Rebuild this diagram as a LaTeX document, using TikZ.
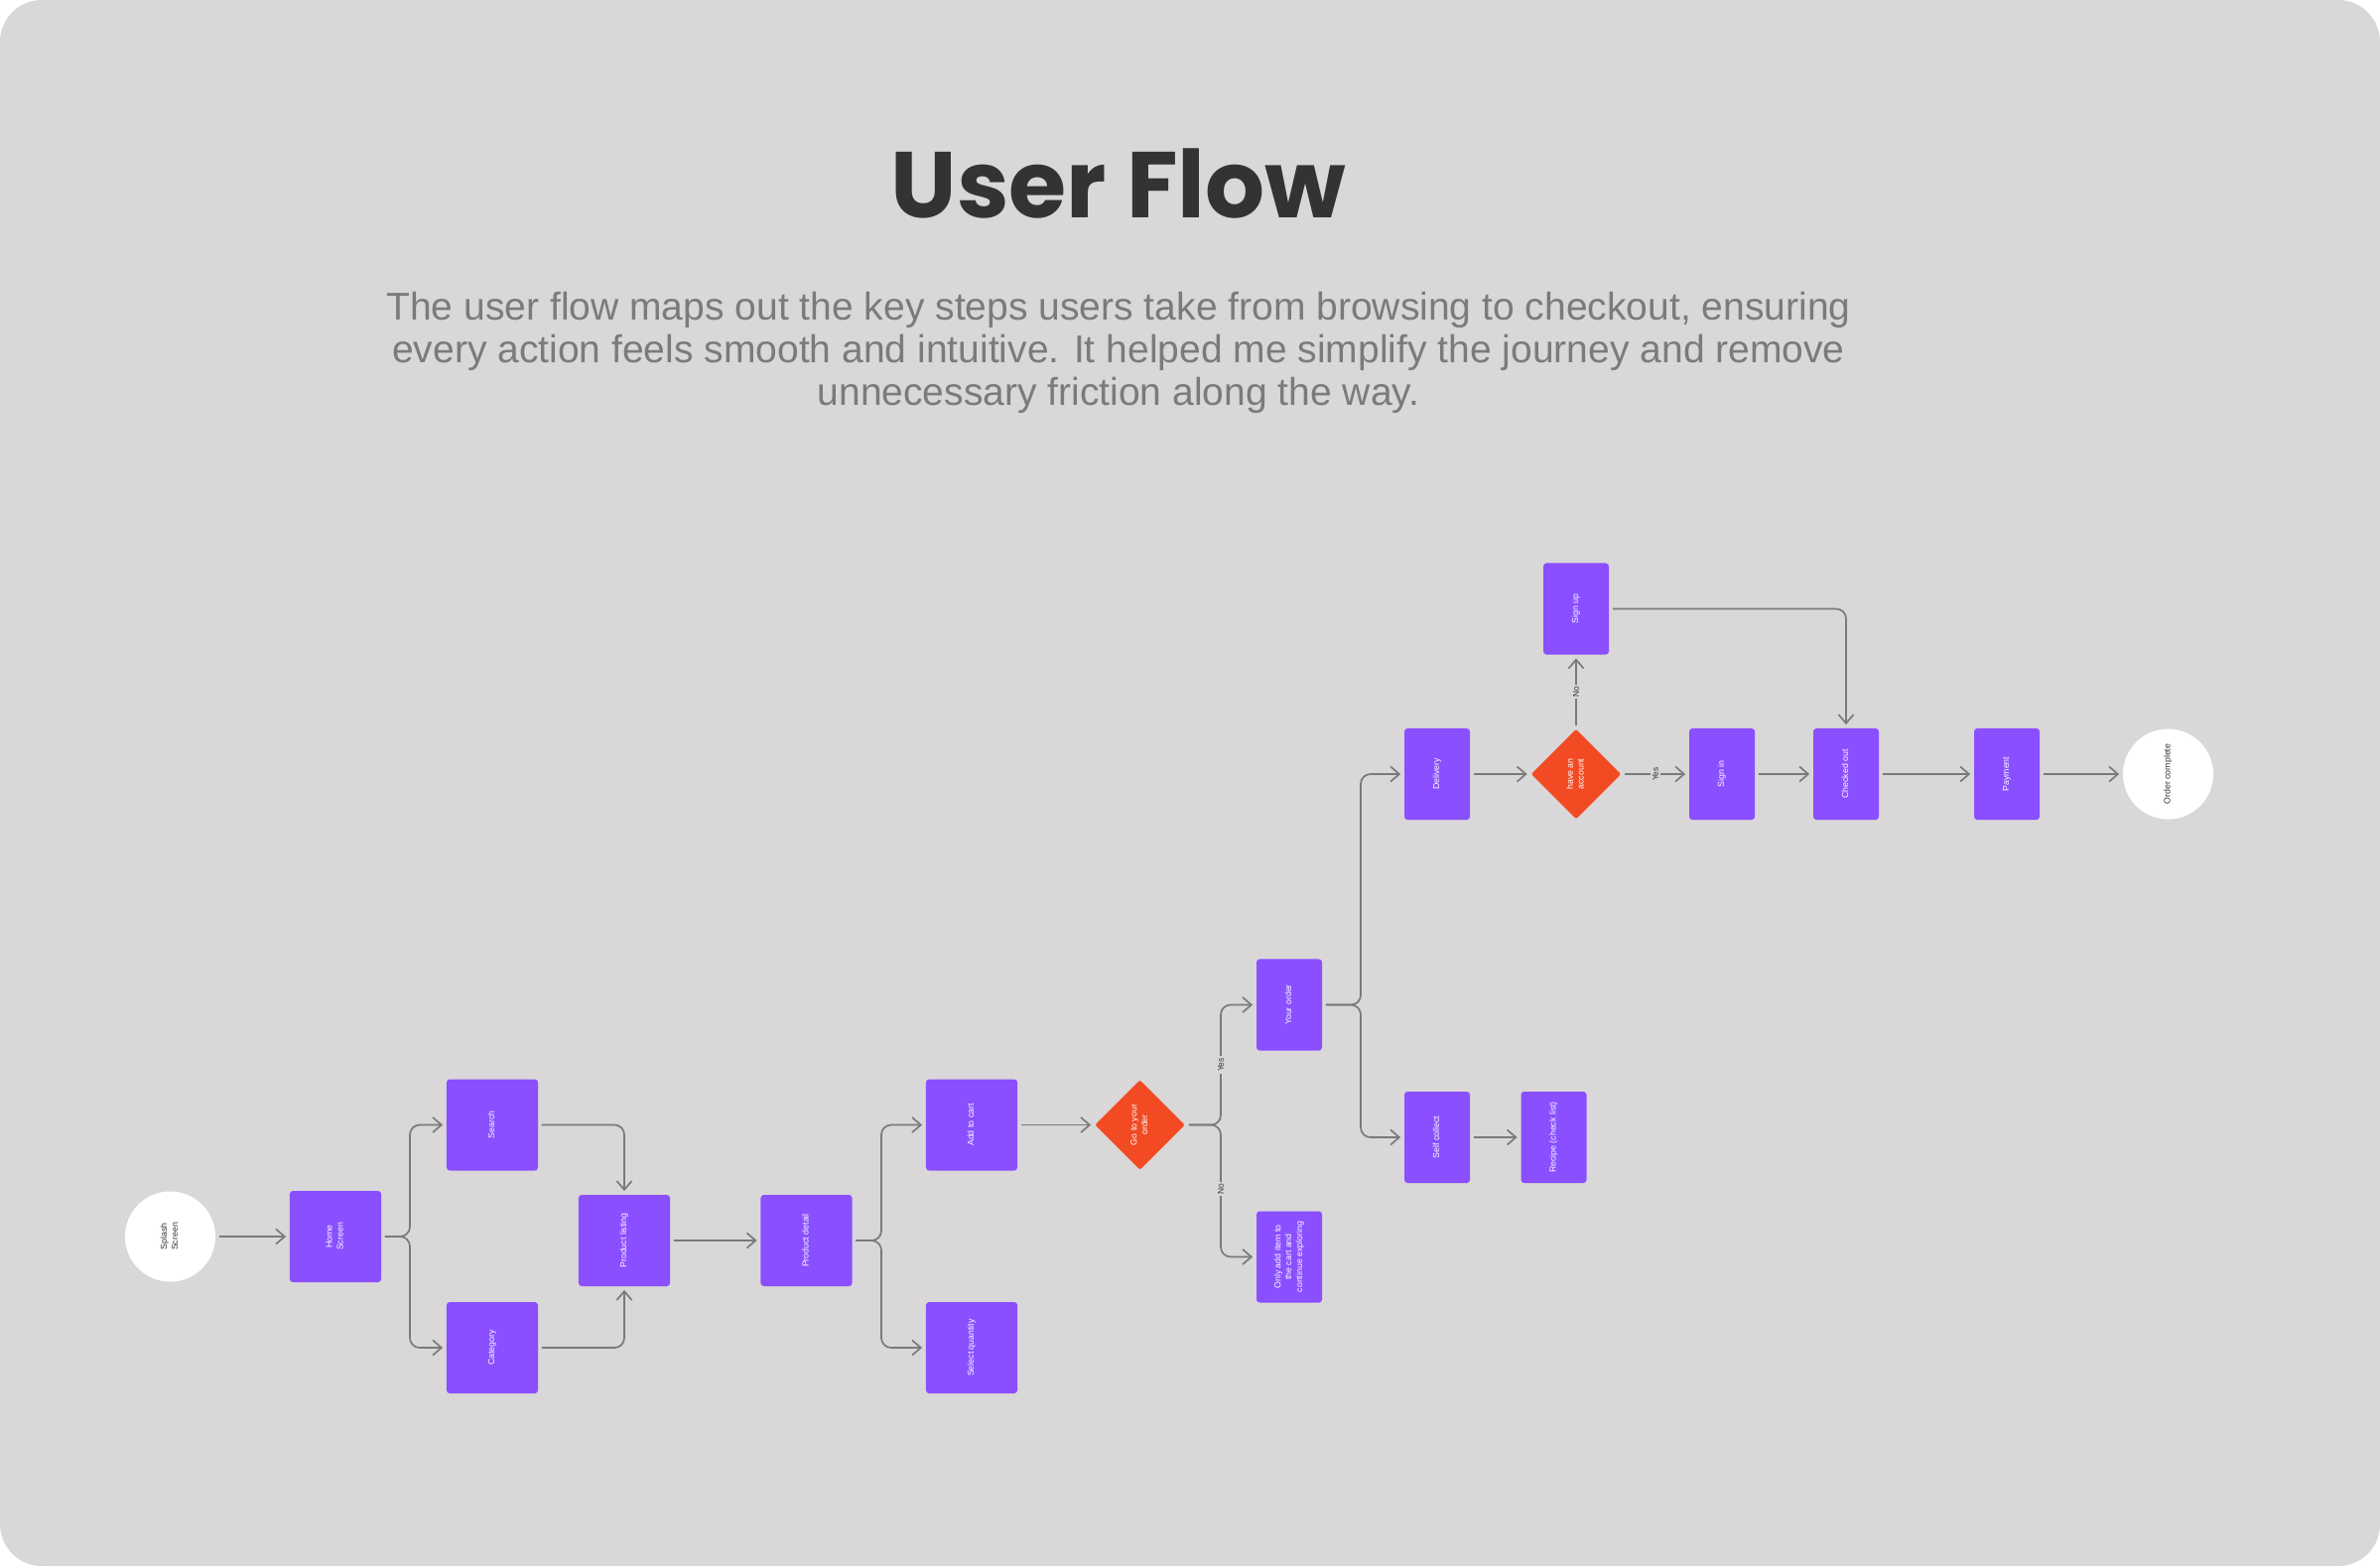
\documentclass[tikz,border=0pt]{standalone}
\usepackage{fontspec}
\usepackage{graphicx}
\setmainfont{Liberation Sans}
\newfontfamily\titlefont{Poppins}
\usetikzlibrary{arrows.meta,shapes.geometric}
\definecolor{bg}{HTML}{D9D7D8}
\definecolor{purp}{HTML}{8A4FFF}
\definecolor{orng}{HTML}{F24B24}
\definecolor{connc}{HTML}{7A7A7A}
\definecolor{ttl}{HTML}{333333}
\definecolor{subc}{HTML}{7B7B7B}
\newcommand\rtxt[1]{\rotatebox{90}{\fontsize{2.5pt}{3.1pt}\selectfont\begin{tabular}{@{}c@{}}#1\end{tabular}}}
\tikzset{
  box/.style={rectangle, rounded corners=0.9pt, fill=purp, minimum width=0.92cm, minimum height=0.92cm, inner sep=0pt, text=white},
  nbox/.style={box, minimum width=0.66cm},
  dec/.style={diamond, fill=orng, minimum width=0.91cm, minimum height=0.91cm, inner sep=0pt, text=white, rounded corners=0.6pt},
  term/.style={circle, fill=white, minimum size=0.91cm, inner sep=0pt, text=ttl},
  link/.style={draw=connc, line width=0.48pt, -{Straight Barb[length=2.5pt,width=4.3pt]}, rounded corners=2.8pt, shorten >=0.9pt, shorten <=0.9pt},
  lbl/.style={fill=bg, inner sep=0.5pt, text=ttl, font=\fontsize{2.4pt}{2.8pt}\selectfont, rotate=90},
  subt/.style={anchor=base, text=subc, font=\fontsize{11.1pt}{13pt}\selectfont, inner sep=0pt},
}
\begin{document}
\begin{tikzpicture}[x=0.01cm,y=-0.01cm]
\useasboundingbox (0,0) rectangle (2398,1578);
\fill[white] (0,0) rectangle (2398,1578);
\fill[bg, rounded corners=12pt] (0,0) rectangle (2398,1578);

\node[anchor=base, text=ttl, font=\titlefont\bfseries\fontsize{26.8pt}{32pt}\selectfont, inner sep=0pt] (title) at (1127,219) {User Flow};
\node[subt] (sub1) at (1127,322) {The user flow maps out the key steps users take from browsing to checkout, ensuring};
\node[subt] (sub2) at (1127,365) {every action feels smooth and intuitive. It helped me simplify the journey and remove};
\node[subt] (sub3) at (1127,408) {unnecessary friction along the way.};

% nodes
\node[term] (splash) at (171.5,1246) {\rtxt{Splash\\Screen}};
\node[box] (home) at (338,1246) {\rtxt{Home\\Screen}};
\node[box] (search) at (496,1133.5) {\rtxt{Search}};
\node[box] (category) at (496,1358) {\rtxt{Category}};
\node[box] (pl) at (629,1250) {\rtxt{Product listing}};
\node[box] (pd) at (812.5,1250) {\rtxt{Product detail}};
\node[box] (ac) at (979,1133.5) {\rtxt{Add to cart}};
\node[box] (sq) at (979,1358) {\rtxt{Select quantity}};
\node[dec] (d1) at (1148.5,1133.5) {\rtxt{Go to your\\order}};
\node[nbox] (yo) at (1299,1012.5) {\rtxt{Your order}};
\node[nbox] (oa) at (1299,1266.5) {\rtxt{Only add item to\\the cart and\\continue exploring}};
\node[nbox] (del) at (1448,780) {\rtxt{Delivery}};
\node[nbox] (sc) at (1448,1146) {\rtxt{Self collect}};
\node[nbox] (rec) at (1565.5,1146) {\rtxt{Recipe (check list)}};
\node[dec] (d2) at (1588,780) {\rtxt{have an\\account}};
\node[nbox] (su) at (1588,613.5) {\rtxt{Sign up}};
\node[nbox] (si) at (1735,780) {\rtxt{Sign in}};
\node[nbox] (co) at (1860,780) {\rtxt{Checked out}};
\node[nbox] (pay) at (2022,780) {\rtxt{Payment}};
\node[term] (oc) at (2184.5,780) {\rtxt{Order complete}};

% fork coordinates
\coordinate (f1) at (413,0);
\coordinate (f2) at (888,0);
\coordinate (f3) at (1230,0);
\coordinate (f4) at (1371,0);

% connectors
\draw[link] (splash) -- (home);
\draw[link] (home.east) -- (home.east -| f1) |- (search.west);
\draw[link] (home.east) -- (home.east -| f1) |- (category.west);
\draw[link] (search.east) -| (pl.north);
\draw[link] (category.east) -| (pl.south);
\draw[link] (pl) -- (pd);
\draw[link] (pd.east) -- (pd.east -| f2) |- (ac.west);
\draw[link] (pd.east) -- (pd.east -| f2) |- (sq.west);
\draw[link] (ac) -- (d1);
\draw[link] (d1.east) -- (d1.east -| f3) |- (yo.west);
\draw[link] (d1.east) -- (d1.east -| f3) |- (oa.west);
\draw[link] (yo.east) -- (yo.east -| f4) |- (del.west);
\draw[link] (yo.east) -- (yo.east -| f4) |- (sc.west);
\draw[link] (sc) -- (rec);
\draw[link] (del) -- (d2);
\draw[link] (d2.north) -- (su.south);
\draw[link] (d2.east) -- (si.west);
\draw[link] (su.east) -| (co.north);
\draw[link] (si) -- (co);
\draw[link] (co) -- (pay);
\draw[link] (pay) -- (oc);

% labels
\node[lbl] (l1) at (1230,1073) {Yes};
\node[lbl] (l2) at (1230,1198) {No};
\node[lbl] (l3) at (1588,697) {No};
\node[lbl] (l4) at (1668,780) {Yes};
\end{tikzpicture}
\end{document}
